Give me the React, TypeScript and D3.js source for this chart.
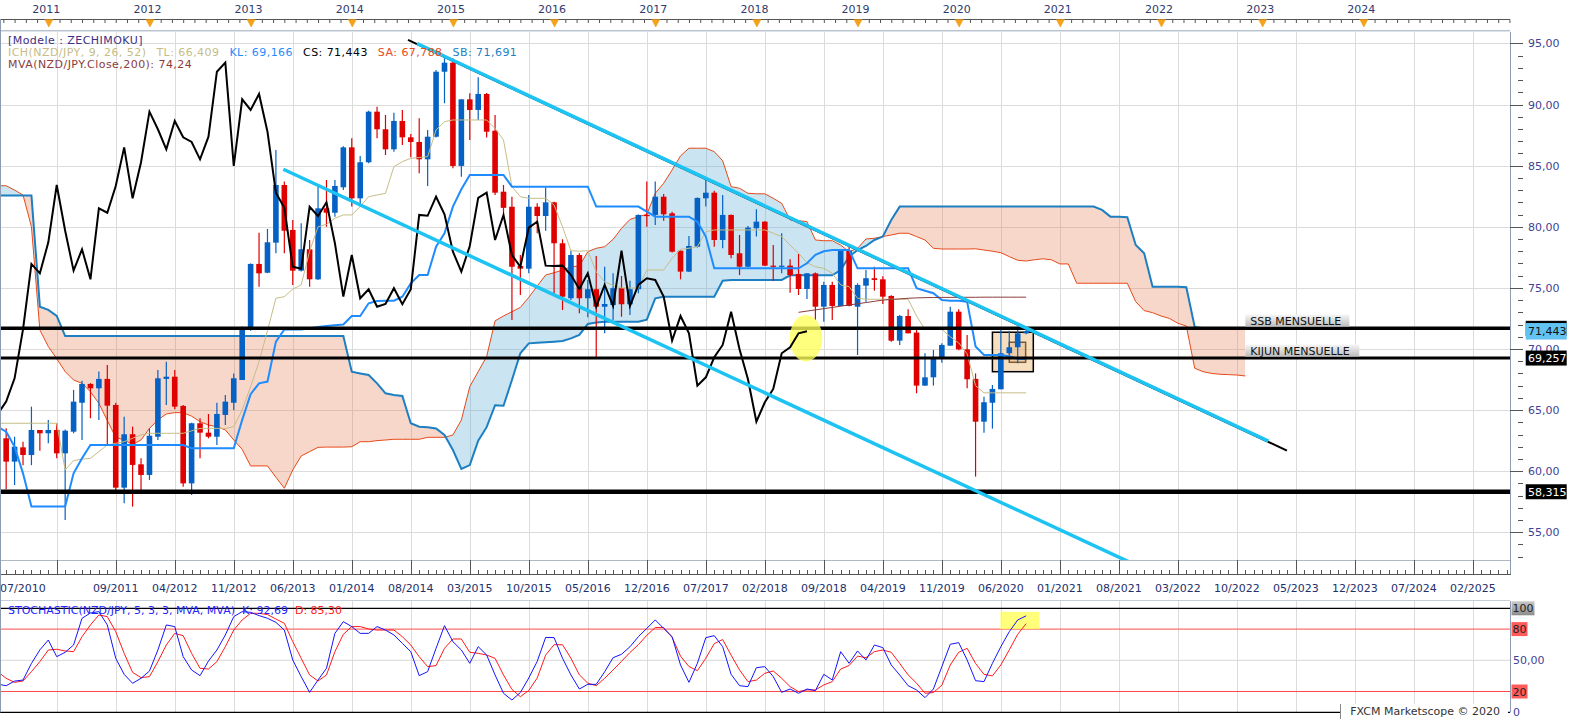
import React from "react";
import * as d3 from "d3";

// ================= DATA =================
// month index: 0 = Jan 2011 (monthly NZD/JPY candles)
const CANDLE_START = -5; // Aug 2010
const opens = [
  62.69, 60.78, 61.95, 61.32, 63.37, 63.10, 63.37, 61.46, 63.23, 65.6,
  67.14, 66.78, 67.55, 65.42, 58.65, 63.02, 60.56, 59.69, 62.82, 67.55,
  67.73, 65.34, 59.0, 63.92, 63.15, 62.82, 64.6, 65.6, 67.46, 71.61,
  76.96, 76.24, 78.7, 83.42, 79.74, 76.41, 78.16, 75.7, 81.51, 81.15,
  83.23, 86.5, 82.33, 85.28, 89.42, 87.98, 86.34, 88.66, 87.32, 86.94,
  85.52, 87.37, 92.69, 93.43, 84.98, 90.43, 89.56, 90.87, 87.86, 82.87,
  81.64, 76.79, 76.57, 81.64, 80.88, 82.0, 78.65, 74.15, 77.69, 74.15,
  74.89, 73.46, 73.6, 74.97, 73.66, 74.89, 80.97, 80.97, 82.46, 81.1,
  78.04, 76.33, 78.37, 82.33, 82.79, 78.92, 80.97, 77.83, 76.73, 79.88,
  80.42, 76.82, 76.79, 76.82, 76.14, 74.91, 76.19, 73.46, 75.24, 73.52,
  78.04, 73.46, 75.18, 75.79, 75.7, 74.34, 70.68, 72.7, 71.34, 67.0,
  67.68, 69.24, 70.27, 73.05, 69.97, 67.55, 64.05, 65.6, 66.7, 69.65,
  70.14, 71.28,
];
const highs = [
  63.51, 62.82, 62.41, 65.28, 63.37, 64.19, 63.92, 63.4, 66.65, 67.4,
  67.2, 68.15, 68.69, 65.6, 64.46, 63.64, 61.05, 63.51, 68.28, 68.96,
  68.28, 65.42, 63.97, 64.33, 64.68, 65.6, 66.24, 68.0, 71.83, 77.0,
  79.52, 79.82, 86.28, 83.7, 80.56, 80.29, 78.92, 83.28, 83.83, 83.83,
  86.6, 87.24, 85.8, 89.5, 89.83, 89.15, 89.33, 89.56, 87.6, 88.88,
  87.92, 92.83, 93.79, 93.79, 90.43, 90.92, 92.23, 90.95, 89.15, 83.42,
  82.46, 77.69, 82.6, 81.92, 83.23, 82.05, 78.98, 78.04, 77.83, 75.65,
  77.6, 76.73, 76.19, 75.97, 75.59, 81.0, 83.7, 83.7, 82.68, 81.24,
  78.04, 79.25, 82.4, 83.83, 82.95, 82.6, 81.0, 79.33, 80.07, 81.43,
  80.45, 78.5, 79.47, 77.34, 77.77, 76.2, 76.25, 75.51, 75.51, 78.1,
  78.37, 75.37, 76.46, 76.73, 75.95, 74.4, 72.78, 73.25, 71.55, 69.64,
  69.92, 70.46, 73.46, 73.25, 71.15, 68.0, 66.1, 67.05, 71.55, 71.5,
  71.55, 71.6,
];
const lows = [
  58.52, 58.87, 60.49, 60.49, 61.68, 62.28, 61.05, 56.0, 63.1, 62.55,
  64.33, 64.19, 62.14, 58.32, 57.37, 57.1, 58.32, 59.28, 62.55, 65.42,
  65.07, 58.73, 58.05, 61.05, 62.69, 62.14, 63.78, 65.0, 67.46, 71.5,
  75.1, 76.2, 77.83, 77.83, 75.24, 76.35, 75.1, 75.65, 80.0, 80.83,
  83.0, 81.65, 81.65, 85.2, 87.24, 85.87, 86.15, 86.7, 85.69, 84.38,
  83.34, 87.3, 90.11, 84.79, 84.1, 87.1, 88.74, 87.3, 82.6, 81.1,
  72.37, 74.42, 76.19, 79.47, 79.68, 74.42, 73.19, 74.01, 72.92, 72.59,
  69.32, 71.28, 72.37, 72.64, 72.78, 74.56, 80.0, 80.15, 80.5, 77.9,
  75.7, 76.3, 78.3, 81.65, 78.37, 78.24, 77.42, 76.05, 76.7, 79.2,
  76.8, 75.59, 76.19, 74.6, 74.42, 74.09, 72.37, 72.23, 72.37, 73.5,
  73.5, 69.51, 73.87, 74.77, 73.68, 70.6, 70.33, 71.28, 66.37, 67.0,
  67.0, 68.88, 70.27, 69.9, 66.78, 59.55, 63.15, 63.48, 66.7, 69.6,
  68.83, 71.2,
];
const closes = [
  60.78, 62.0, 61.32, 63.37, 63.10, 63.37, 61.46, 63.31, 65.69, 67.14,
  66.78, 67.55, 65.36, 58.65, 63.02, 60.51, 59.69, 62.9, 67.6, 67.73,
  65.28, 59.0, 63.92, 63.15, 62.82, 64.68, 65.69, 67.6, 71.61, 76.96,
  76.19, 78.73, 83.42, 79.68, 76.41, 78.16, 75.7, 81.51, 81.15, 83.34,
  86.5, 82.33, 85.28, 89.42, 87.98, 86.34, 88.66, 87.32, 86.94, 85.52,
  87.37, 92.69, 93.43, 84.98, 90.43, 89.56, 90.87, 87.78, 82.79, 81.55,
  76.73, 76.57, 81.64, 80.88, 82.0, 78.65, 74.28, 77.69, 74.15, 74.89,
  73.46, 73.68, 74.97, 73.66, 74.89, 80.97, 80.9, 82.46, 81.02, 77.96,
  76.33, 78.43, 82.36, 82.79, 78.92, 80.97, 77.69, 76.73, 79.93, 80.42,
  76.82, 76.79, 76.82, 76.05, 74.91, 76.19, 73.46, 75.24, 73.52, 78.04,
  73.52, 75.24, 75.79, 75.65, 74.28, 70.68, 72.7, 71.28, 67.0, 67.68,
  69.32, 70.33, 73.05, 69.97, 67.52, 64.05, 65.64, 66.73, 69.65, 70.14,
  71.28, 71.443,
];

const LINE_START = -6; // Jul 2010
const tenkan = [
  63.92, 63.92, 63.92, 63.92, 63.92, 63.92, 63.92, 63.92, 60.1, 60.87,
  60.98, 61.05, 61.6, 62.14, 62.28, 62.41, 62.69, 62.96, 63.1, 63.1,
  63.1, 63.1, 63.1, 63.3, 63.5, 63.5, 63.5, 63.5, 63.64, 65.0,
  66.92, 68.96, 71.5, 74.15, 74.28, 74.9, 75.24, 78.0, 80.0, 80.2,
  80.7, 80.97, 80.97, 81.65, 82.46, 82.6, 82.74, 84.92, 85.33, 85.6,
  85.67, 85.74, 87.92, 88.6, 88.74, 88.74, 88.74, 88.74, 88.74, 88.05,
  87.1, 83.28, 82.46, 82.33, 82.33, 82.33, 81.78, 80.0, 78.04, 78.0,
  78.04, 76.3, 75.5, 75.2, 75.0, 75.0, 74.97, 76.46, 76.46, 76.46,
  77.42, 78.16, 78.24, 78.37, 79.6, 79.74, 79.74, 79.74, 79.74, 79.74,
  79.74, 79.74, 79.47, 79.2, 78.5, 77.83, 77.06, 76.73, 76.6, 76.19,
  75.24, 75.1, 74.15, 74.07, 74.07, 74.07, 74.07, 74.07, 74.07, 72.7,
  71.6, 71.6, 71.6, 71.0, 70.5, 69.6, 67.0, 66.41, 66.41, 66.41,
  66.41, 66.41, 66.41,
];
const kijun = [
  63.64, 63.23, 62.0, 59.82, 57.1, 57.1, 57.1, 57.1, 57.1, 59.82,
  61.05, 62.14, 62.14, 62.14, 62.14, 62.14, 62.14, 62.14, 62.14, 62.14,
  62.14, 62.14, 62.14, 61.87, 61.87, 61.87, 61.87, 61.87, 61.87, 64.2,
  66.3, 67.19, 67.33, 70.6, 71.6, 71.6, 71.6, 71.7, 71.8, 71.88,
  71.94, 72.0, 72.7, 72.7, 73.74, 73.93, 73.95, 73.95, 74.28, 75.37,
  76.05, 76.05, 78.37, 79.47, 81.65, 83.07, 84.24, 84.24, 84.24, 84.24,
  84.24, 83.28, 83.28, 83.28, 83.28, 83.28, 83.28, 83.28, 83.28, 83.28,
  83.28, 81.65, 81.65, 81.65, 81.65, 81.65, 81.65, 81.24, 80.83, 80.83,
  80.83, 80.83, 80.83, 80.42, 79.2, 76.6, 76.6, 76.6, 76.6, 76.6,
  76.6, 76.6, 76.6, 76.6, 76.6, 76.6, 77.01, 77.7, 78.0, 78.1,
  78.1, 78.1, 76.6, 76.6, 76.6, 76.6, 76.6, 76.6, 76.6, 74.97,
  74.77, 74.56, 74.0, 73.95, 73.95, 73.87, 70.2, 69.51, 69.51, 69.51,
  69.4, 69.2, 69.17,
];
const senkouA = [
  83.36, 83.36, 83.0, 82.6, 80.0, 71.55, 70.2, 69.2, 68.15, 67.46,
  67.19, 66.5, 65.55, 64.14, 62.77, 62.55, 62.19, 62.55, 63.5, 64.19,
  64.68, 64.79, 64.79, 64.5, 64.05, 63.78, 63.64, 63.37, 62.55, 61.78,
  60.43, 60.43, 60.43, 59.5, 58.6, 60.1, 61.24, 61.6, 61.95, 61.97,
  61.97, 61.97, 62.0, 62.41, 62.41, 62.5, 62.55, 62.61, 62.61, 62.61,
  62.61, 62.77, 62.77, 62.77, 62.96, 64.19, 66.92, 68.15, 69.38, 72.3,
  72.7, 73.05, 73.4, 74.23, 75.15, 76.05, 76.24, 76.46, 76.73, 76.79,
  77.96, 78.24, 78.37, 78.97, 79.87, 80.6, 80.83, 81.02, 82.74, 83.56,
  84.65, 85.8, 86.43, 86.43, 86.43, 86.15, 85.4, 83.28, 83.15, 82.74,
  82.7, 82.7, 82.33, 81.92, 80.56, 80.5, 80.42, 78.92, 78.86, 78.86,
  78.5, 77.96, 78.24, 79.0, 79.06, 79.2, 79.33, 79.47, 79.47, 79.2,
  78.92, 78.24, 78.18, 78.18, 78.18, 78.18, 78.2, 78.1, 78.0, 77.88,
  77.56, 77.26, 77.2, 77.3, 77.38, 77.3, 76.96, 76.96, 75.38, 75.38,
  75.38, 75.38, 75.38, 75.38, 75.38, 73.87, 73.14, 72.97, 72.7, 72.5,
  72.1, 71.88, 68.42, 68.14, 68.0, 67.93, 67.9, 67.87, 67.79,
];
const senkouB = [
  82.55, 82.55, 82.55, 82.55, 82.55, 73.46, 73.2, 72.7, 71.06, 71.06,
  71.06, 71.06, 71.06, 71.06, 71.06, 71.06, 71.06, 71.06, 71.06, 71.06,
  71.06, 71.06, 71.06, 71.06, 71.06, 71.06, 71.06, 71.06, 71.06, 71.06,
  71.06, 71.06, 71.06, 71.06, 71.06, 71.06, 71.06, 71.06, 71.06, 71.06,
  71.06, 71.06, 68.14, 68.0, 67.87, 67.19, 66.37, 66.24, 66.15, 63.92,
  63.64, 63.59, 63.5, 62.96, 61.73, 60.18, 60.5, 62.5, 63.6, 65.4,
  65.35, 67.46, 69.65, 70.46, 70.5, 70.55, 70.6, 70.65, 70.87, 71.15,
  72.05, 72.16, 72.23, 72.23, 72.23, 72.23, 72.23, 72.4, 74.15, 74.28,
  74.28, 74.28, 74.28, 74.28, 74.28, 74.28, 75.59, 75.65, 75.65, 75.65,
  75.65, 75.65, 75.65, 75.65, 76.03, 76.03, 76.03, 76.03, 76.03, 76.03,
  76.46, 77.56, 78.1, 78.43, 78.92, 79.2, 80.56, 81.65, 81.65, 81.65,
  81.65, 81.65, 81.65, 81.65, 81.65, 81.65, 81.65, 81.65, 81.65, 81.65,
  81.65, 81.65, 81.65, 81.65, 81.65, 81.65, 81.65, 81.65, 81.65, 81.65,
  81.65, 81.38, 80.83, 80.83, 80.78, 78.51, 77.83, 75.1, 75.1, 75.1,
  75.1, 75.05, 71.8, 71.69, 71.69, 71.69, 71.69, 71.69, 71.69,
];
const MVA_START = 89;
const mva200 = [
  73.0, 73.1, 73.2, 73.3, 73.4, 73.5, 73.6, 73.7, 73.8, 73.9,
  74.0, 74.05, 74.1, 74.15, 74.18, 74.2, 74.21, 74.22, 74.22, 74.23,
  74.23, 74.23, 74.24, 74.24, 74.24, 74.24, 74.24, 74.24,
];
const CHIKOU_SHIFT = 26;

const stochK = [
  27, 25.6, 30, 31, 47, 60, 69.5, 53.5, 57.7, 64.7,
  90.4, 95.5, 96.8, 84, 51.9, 36.5, 27.9, 32.7, 39.7, 59.9,
  84, 82.4, 53.5, 40.7, 35.2, 49.3, 59.9, 74.3, 92, 96.8,
  96.1, 93, 90.4, 86.5, 79.1, 50.3, 34.3, 19.2, 31.1, 42.3,
  75.9, 87.2, 82.4, 75.9, 75.9, 82.4, 79.1, 74.3, 66.3, 58.3,
  35.2, 39.1, 61.5, 83.3, 67.9, 59.9, 47.1, 63.1, 55.1, 35.9,
  18.3, 11.8, 19, 33, 49, 72, 71.8, 52, 35.9, 22.4,
  26.9, 26.9, 39, 52.5, 55.8, 63, 72.7, 80.7, 88.8, 80.7,
  72.7, 45.5, 28.8, 47.1, 71.8, 73.7, 63.1, 36.5, 25.6, 24.7,
  42.9, 43.9, 34.3, 19.2, 22.4, 18.3, 22.4, 20.8, 36.5, 31.1,
  58.3, 47.1, 59, 50.3, 64.7, 62.2, 45.5, 35.9, 25.6, 21.5,
  14.1, 22.4, 43.9, 65.4, 67, 50.3, 30.4, 29.5, 47.1, 63.1,
  77.5, 88.8, 92.69,
];
const stochD = [
  39, 32.7, 28.8, 30.1, 39.1, 48.7, 59.9, 60.6, 59, 58.3,
  72.7, 84, 93.6, 92, 77.5, 56.7, 38.4, 33.3, 34.3, 48.7,
  64.7, 75.9, 73.7, 56.7, 42.3, 41.6, 48.7, 63.1, 79.1, 88.8,
  95.2, 95.2, 94, 89.7, 85.6, 67.9, 51.9, 35.9, 30.1, 35.9,
  58.3, 75, 82.4, 82.4, 80.1, 79.1, 79.1, 79.1, 72.7, 64.7,
  53.5, 43.9, 44.9, 61.5, 70.5, 70.5, 57.7, 56.7, 55.1, 51.9,
  35.9, 22, 15, 21, 33, 55, 65, 65, 52, 36,
  28, 25.6, 32.7, 40.7, 49, 57.5, 65, 74, 81.5, 81.5,
  72, 54, 44, 40, 52, 66, 70, 55, 40.7, 29.5,
  31, 37.5, 39.7, 32.7, 24.7, 20, 21.5, 21.5, 26.3, 29.5,
  41.6, 45, 54, 52.5, 58.3, 59.9, 57.7, 47, 36, 28,
  18.3, 19, 26, 45.5, 57.7, 61.5, 47, 36.5, 35, 45.5,
  60, 75, 85.3,
];

const yearLabels = ["2011", "2012", "2013", "2014", "2015", "2016", "2017", "2018", "2019", "2020", "2021", "2022", "2023", "2024"];
const dateTicks = [
  "07/2010", "02/2011", "09/2011", "04/2012", "11/2012", "06/2013", "01/2014", "08/2014", "03/2015",
  "10/2015", "05/2016", "12/2016", "07/2017", "02/2018", "09/2018", "04/2019", "11/2019", "06/2020",
  "01/2021", "08/2021", "03/2022", "10/2022", "05/2023", "12/2023", "07/2024", "02/2025",
];
const hiddenDateLabels = ["02/2011"];
const priceTicks = [55, 60, 65, 70, 75, 80, 85, 90, 95];
const stochLabels = [
  { v: 100, text: "100", kind: "gray" },
  { v: 80, text: "80", kind: "red" },
  { v: 50, text: "50,00", kind: "plain" },
  { v: 20, text: "20", kind: "red" },
  { v: 0, text: "0", kind: "plain" },
];

// horizontal levels (monthly SSB, monthly Kijun, support)
const levelValues = [71.691, 69.257, 58.315];
const levelWidths = [3.5, 3, 4.5];
const levelNotes = [
  { text: "SSB MENSUELLE", v: 71.691, i: 142, w: 104 },
  { text: "KIJUN MENSUELLE", v: 69.257, i: 142, w: 114 },
];
// drawn trend lines [monthIndex, price]
const trendUpperBlack = [[42.67, 95.29], [146.94, 61.68]];
const trendUpper = [[43.74, 95.0], [144.74, 62.46]];
const trendLower = [[27.88, 84.71], [128.6, 52.45]];
const circleNote = { i: 89.88, v: 70.88 };
const boxOuter = { i0: 112.0, i1: 116.85, v0: 68.14, v1: 71.37 };
const boxInner = { i0: 114.0, i1: 115.94, v0: 68.91, v1: 70.55 };
const stochHighlight = { i0: 112.95, i1: 117.6, s0: 80, s1: 96.7 };

const legendParts = [
  { t: "ICH(NZD/JPY, 9, 26, 52)", c: "#c6bd86" },
  { t: "TL: 66,409", c: "#c6bd86" },
  { t: "KL: 69,166", c: "#1e8cff" },
  { t: "CS: 71,443", c: "#000000" },
  { t: "SA: 67,788", c: "#e64a19" },
  { t: "SB: 71,691", c: "#1c7fc2" },
];

// ================= CHART =================
const PX0 = 0, PX1 = 1510, PY0 = 32, PY1 = 560;
const SY100 = 608.3, SY0 = 712.3;
const FONT = "DejaVu Sans";

const parseTick = (s: string) => {
  const [m, yv] = s.split("/").map(Number);
  return (yv - 2011) * 12 + (m - 1);
};
const comma = (v: number, d: number) => v.toFixed(d).replace(".", ",");

export default function App() {
  const x = d3.scaleLinear().domain([-5.73, 173.4]).range([PX0, PX1]);
  const y = d3.scaleLinear().domain([52.73, 95.94]).range([PY1, PY0]);
  const ys = d3.scaleLinear().domain([0, 100]).range([SY0, SY100]);

  type P = { i: number; v: number };
  const series = (arr: number[], start: number): P[] => arr.map((v, k) => ({ i: start + k, v }));
  const line = d3.line<P>().x((d) => x(d.i)).y((d) => y(d.v));
  const sline = d3.line<P>().x((d) => x(d.i)).y((d) => ys(d.v));

  const cloud = senkouA.map((a, k) => ({ i: LINE_START + k, a, b: senkouB[k] }));
  type C = { i: number; a: number; b: number };
  const areaAB = d3.area<C>().x((d) => x(d.i)).y0((d) => y(d.b)).y1((d) => y(d.a));
  const aboveB = d3.area<C>().x((d) => x(d.i)).y0(0).y1((d) => y(d.b));
  const belowB = d3.area<C>().x((d) => x(d.i)).y0((d) => y(d.b)).y1(720);

  const candles = closes.map((c, k) => ({ i: CANDLE_START + k, o: opens[k], h: highs[k], l: lows[k], c }));
  const chikou = closes.map((c, k) => ({ i: CANDLE_START + k - CHIKOU_SHIFT, v: c }));

  const gridMonths = dateTicks.map(parseTick);
  const allMonths = d3.range(-6, 174);

  const lastClose = closes[closes.length - 1];
  const bw = 5.6;

  // top ruler ticks (9 per year)
  const topTicks: number[] = [];
  for (let yr = 2010; yr <= 2025; yr++) for (let k = 0; k < 9; k++) topTicks.push((yr - 2011) * 12 + (k * 12) / 9);

  const tl = (pts: number[][]) => line(pts.map(([i, v]) => ({ i, v }))) as string;

  return (
    <svg width={1583} height={720} style={{ position: "absolute", left: 0, top: 0, background: "#fff" }}
      fontFamily={FONT} fontSize={11}>
      <defs>
        <clipPath id="plot"><rect x={PX0} y={PY0} width={PX1 - PX0} height={PY1 - PY0} /></clipPath>
        <clipPath id="aboveB"><path d={aboveB(cloud) as string} /></clipPath>
        <clipPath id="belowB"><path d={belowB(cloud) as string} /></clipPath>
        <clipPath id="sto"><rect x={PX0} y={601} width={PX1 - PX0} height={115} /></clipPath>
        <linearGradient id="tagGrad" x1="0" y1="0" x2="0" y2="1">
          <stop offset="0" stopColor="#f6f6f6" />
          <stop offset="1" stopColor="#bdbdbd" />
        </linearGradient>
        <linearGradient id="grayGrad" x1="0" y1="0" x2="0" y2="1">
          <stop offset="0" stopColor="#c8c8c8" />
          <stop offset="1" stopColor="#8c8c8c" />
        </linearGradient>
      </defs>

      {/* ---------- top year bar ---------- */}
      {yearLabels.map((yl) => {
        const xi = x((+yl - 2011) * 12);
        return (
          <text key={yl} x={xi - 2} y={13} textAnchor="middle" fill="#2e3a6e">{yl}</text>
        );
      })}
      <line x1={0} x2={PX1} y1={19.5} y2={19.5} stroke="#555" />
      {topTicks.filter((t) => x(t) >= 0 && x(t) <= PX1).map((t, k) => (
        <line key={k} x1={x(t) + 0.5} x2={x(t) + 0.5} y1={19.5} y2={23} stroke="#555" />
      ))}
      {yearLabels.map((yl) => {
        const xi = x((+yl - 2011) * 12) + 0.5;
        return <path key={yl} d={`M${xi - 4},19.5 L${xi + 4},19.5 L${xi},27 Z`} fill="#f7a21b" stroke="#e8900c" strokeWidth={0.5} />;
      })}
      <line x1={0} x2={PX1} y1={30.5} y2={30.5} stroke="#b9c3cf" />
      <line x1={0} x2={PX1} y1={31.5} y2={31.5} stroke="#dfe4ea" />

      {/* ---------- grid ---------- */}
      {priceTicks.map((p) => (
        <line key={p} x1={PX0} x2={PX1} y1={Math.round(y(p)) + 0.5} y2={Math.round(y(p)) + 0.5} stroke="#dcdcdc" />
      ))}
      {gridMonths.map((m, k) => (
        <g key={k}>
          <line x1={Math.round(x(m)) + 0.5} x2={Math.round(x(m)) + 0.5} y1={PY0} y2={PY1} stroke="#dcdcdc" />
          <line x1={Math.round(x(m)) + 0.5} x2={Math.round(x(m)) + 0.5} y1={601} y2={SY0} stroke="#dcdcdc" />
        </g>
      ))}

      {/* ---------- ichimoku cloud ---------- */}
      <g clipPath="url(#plot)">
        <g clipPath="url(#aboveB)">
          <path d={areaAB(cloud) as string} fill="rgba(92,170,215,0.32)" />
        </g>
        <g clipPath="url(#belowB)">
          <path d={areaAB(cloud) as string} fill="rgba(232,122,84,0.3)" />
        </g>
        <path d={line(cloud.map((d) => ({ i: d.i, v: d.a }))) as string} fill="none" stroke="#e64a19" strokeWidth={1} />
        <path d={line(cloud.map((d) => ({ i: d.i, v: d.b }))) as string} fill="none" stroke="#1c7fc2" strokeWidth={2} />

        {/* annotation box */}
        <rect x={x(boxOuter.i0)} y={y(boxOuter.v1)} width={x(boxOuter.i1) - x(boxOuter.i0)}
          height={y(boxOuter.v0) - y(boxOuter.v1)} fill="rgba(238,196,138,0.55)" stroke="#000" strokeWidth={1.5} />
        <rect x={x(boxInner.i0)} y={y(boxInner.v1)} width={x(boxInner.i1) - x(boxInner.i0)}
          height={y(boxInner.v0) - y(boxInner.v1)} fill="rgba(222,170,110,0.3)" stroke="#7a5a3a" strokeWidth={1.5} />

        {/* candles */}
        {candles.map((d) => {
          const up = d.c >= d.o;
          const col = up ? "#0561c3" : "#df0000";
          const top = y(Math.max(d.o, d.c));
          const bot = y(Math.min(d.o, d.c));
          const cx = x(d.i);
          return (
            <g key={d.i}>
              <line x1={cx} x2={cx} y1={y(d.h)} y2={y(d.l)} stroke={col} strokeWidth={1.2} />
              <rect x={cx - bw / 2} y={top} width={bw} height={Math.max(1.2, bot - top)} fill={col} />
            </g>
          );
        })}

        {/* indicator lines */}
        <path d={line(series(tenkan, LINE_START)) as string} fill="none" stroke="#c6bd86" strokeWidth={1} />
        <path d={line(series(kijun, LINE_START)) as string} fill="none" stroke="#1e8cff" strokeWidth={2} />
        <path d={line(series(mva200, MVA_START)) as string} fill="none" stroke="#8b3c3c" strokeWidth={1} />

        {/* horizontal levels */}
        {levelValues.map((v, k) => (
          <line key={v} x1={PX0} x2={PX1} y1={y(v)} y2={y(v)} stroke="#000" strokeWidth={levelWidths[k]} />
        ))}

        {/* yellow note */}
        <ellipse cx={x(circleNote.i)} cy={y(circleNote.v)} rx={16.3} ry={23.3} fill="rgba(255,255,90,0.78)" />

        {/* chikou span */}
        <path d={line(chikou) as string} fill="none" stroke="#000" strokeWidth={2} />

        {/* trend lines */}
        <path d={tl(trendLower)} stroke="#1dc3f2" strokeWidth={3.5} fill="none" />
        <path d={tl(trendUpperBlack)} stroke="#000" strokeWidth={2} fill="none" />
        <path d={tl(trendUpper)} stroke="#1dc3f2" strokeWidth={3.5} fill="none" />
      </g>

      {/* level notes */}
      {levelNotes.map((n, k) => {
        const bottom = y(n.v) - levelWidths[k] / 2;
        return (
          <g key={n.text}>
            <rect x={x(n.i)} y={bottom - 12} width={n.w} height={12} fill="url(#tagGrad)" />
            <text x={x(n.i) + 5} y={bottom - 2} fill="#111">{n.text}</text>
          </g>
        );
      })}

      {/* ---------- header legend ---------- */}
      <g letterSpacing={0.45}>
        <text x={8} y={43.5} fill="#3d2f86">[Modele : ZECHIMOKU]</text>
        <text x={8} y={55.5}>
          {legendParts.map((p, k) => (
            <tspan key={p.t} fill={p.c} dx={k === 0 ? 0 : 10}>{p.t}</tspan>
          ))}
        </text>
        <text x={8} y={67.5} fill="#8b3c3c">MVA(NZD/JPY.Close,200): 74,24</text>
      </g>

      {/* ---------- right price axis ---------- */}
      <line x1={PX1 + 0.5} x2={PX1 + 0.5} y1={PY0} y2={574} stroke="#8d9bb0" />
      {d3.range(53, 96).map((v) => (
        <line key={v} x1={v % 5 === 0 ? PX1 : PX1 + 8} x2={PX1 + 13} y1={Math.round(y(v)) + 0.5} y2={Math.round(y(v)) + 0.5} stroke="#555" />
      ))}
      {priceTicks.map((p) => (
        <text key={p} x={1528} y={y(p) + 4} fill="#3f3f95">{comma(p, 2)}</text>
      ))}
      {levelValues.map((v) => (
        <g key={v}>
          <rect x={1525.7} y={y(v) - 7.5} width={41} height={15} fill="#000" />
          <text x={1528} y={y(v) + 4} fill="#fff">{comma(v, 3)}</text>
        </g>
      ))}
      <rect x={1525.7} y={y(lastClose) - 8.3} width={41} height={16.5} fill="#62c3f3" />
      <text x={1528} y={y(lastClose) + 4} fill="#111">{comma(lastClose, 3)}</text>

      {/* ---------- bottom date axis ---------- */}
      <line x1={0} x2={PX1} y1={PY1 + 0.5} y2={PY1 + 0.5} stroke="#b0b8c4" />
      <line x1={0} x2={PX1 + 1} y1={574.5} y2={574.5} stroke="#555" />
      {allMonths.filter((m) => x(m) >= 0 && x(m) <= PX1).map((m) => (
        <line key={m} x1={Math.round(x(m)) + 0.5} x2={Math.round(x(m)) + 0.5} y1={570} y2={574.5} stroke="#555" />
      ))}
      {gridMonths.filter((m) => x(m) >= 0).map((m) => (
        <line key={m} x1={Math.round(x(m)) + 0.5} x2={Math.round(x(m)) + 0.5} y1={PY1} y2={574.5} stroke="#555" />
      ))}
      {dateTicks.map((t) => {
        if (hiddenDateLabels.includes(t)) return null;
        const xm = x(parseTick(t));
        const first = xm < 22;
        return (
          <text key={t} x={first ? 0 : xm} y={592} textAnchor={first ? "start" : "middle"} fill="#24306a">{t}</text>
        );
      })}

      {/* ---------- stochastic pane ---------- */}
      <line x1={0} x2={PX1} y1={600.5} y2={600.5} stroke="#c6ced8" />
      <line x1={0} x2={PX1} y1={ys(50)} y2={ys(50)} stroke="#d8d8d8" />
      <line x1={0} x2={PX1} y1={ys(80)} y2={ys(80)} stroke="#ff4a4a" />
      <line x1={0} x2={PX1} y1={ys(20)} y2={ys(20)} stroke="#ff4a4a" />
      <line x1={0} x2={PX1} y1={ys(100)} y2={ys(100)} stroke="#000" strokeWidth={1.3} />
      <line x1={0} x2={PX1} y1={ys(0)} y2={ys(0)} stroke="#000" strokeWidth={1.3} />
      <rect x={x(stochHighlight.i0)} y={ys(stochHighlight.s1)} width={x(stochHighlight.i1) - x(stochHighlight.i0)}
        height={ys(stochHighlight.s0) - ys(stochHighlight.s1)} fill="rgba(255,255,90,0.8)" />
      <g clipPath="url(#sto)">
        <path d={sline(series(stochD, LINE_START)) as string} fill="none" stroke="#ff1a1a" strokeWidth={1} />
        <path d={sline(series(stochK, LINE_START)) as string} fill="none" stroke="#1414ff" strokeWidth={1} />
      </g>
      <text x={8} y={614}>
        <tspan fill="#2323ff">STOCHASTIC(NZD/JPY, 5, 3, 3, MVA, MVA)</tspan>
        <tspan fill="#2323ff" dx={7}>K: {comma(stochK[stochK.length - 1], 2)}</tspan>
        <tspan fill="#ff2020" dx={7}>D: {comma(stochD[stochD.length - 1], 2)}</tspan>
      </text>
      <line x1={PX1 + 0.5} x2={PX1 + 0.5} y1={601} y2={SY0} stroke="#8d9bb0" />
      {stochLabels.map((s) => {
        const yy = ys(s.v);
        if (s.kind === "plain")
          return <text key={s.text} x={1513} y={yy + 4} fill="#3f3f95">{s.text}</text>;
        const w = s.text.length * 7 + 2;
        return (
          <g key={s.text}>
            <rect x={1511.5} y={yy - 7} width={w} height={14} fill={s.kind === "red" ? "#ff5b5b" : "url(#grayGrad)"} />
            <text x={1512.5} y={yy + 4} fill="#222">{s.text}</text>
          </g>
        );
      })}

      {/* footer */}
      <rect x={1340} y={704} width={168} height={15} fill="#fff" />
      <line x1={1340.5} x2={1340.5} y1={704} y2={719} stroke="#888" />
      <text x={1500} y={715} textAnchor="end" fill="#333">FXCM Marketscope © 2020</text>

      {/* frame */}
      <line x1={0.5} x2={0.5} y1={19} y2={SY0} stroke="#8d9bb0" />
    </svg>
  );
}
